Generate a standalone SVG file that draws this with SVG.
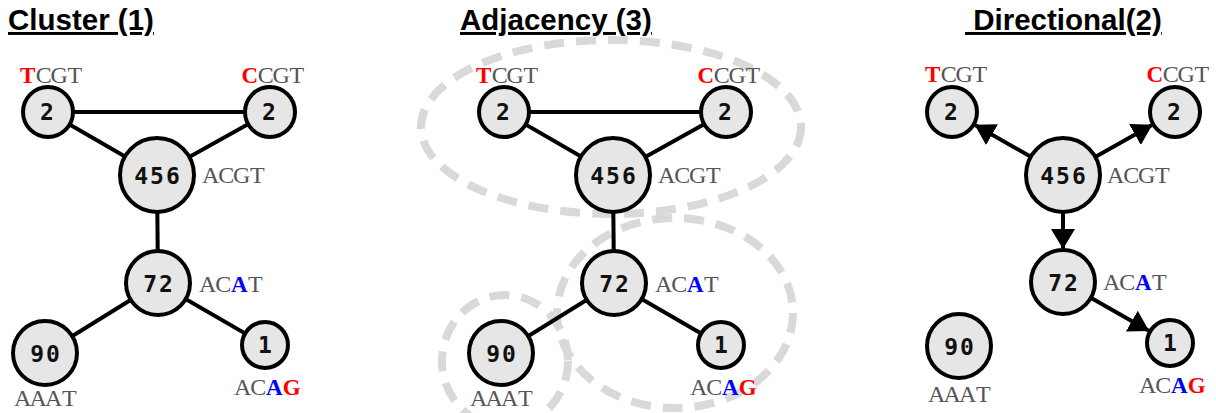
<svg xmlns="http://www.w3.org/2000/svg" width="1216" height="413" viewBox="0 0 1216 413">
<style>
.title{font-family:"Liberation Sans",Arial,sans-serif;font-weight:bold;font-size:29.5px;fill:#000;text-decoration:underline}
.node circle{fill:#e6e6e6;stroke:#000;stroke-width:4}
.num{font-family:"DejaVu Sans Mono",monospace;font-weight:bold;font-size:23px;letter-spacing:2px;text-anchor:middle;fill:#111}
.lbl{font-family:"Liberation Serif","Times New Roman",serif;font-size:24px;fill:#555;text-anchor:middle}
.r{fill:#ff0000;font-weight:bold;font-size:23px}
.b{fill:#0000ff;font-weight:bold;font-size:23px}
.edge{stroke:#000;stroke-width:4;fill:none}
.arr{stroke:#000;stroke-width:4;fill:none;marker-end:url(#ah)}
.grp{fill:none;stroke:#d9d9d9;stroke-width:8;stroke-dasharray:20 12}
</style>
<defs>
<marker id="ah" markerUnits="userSpaceOnUse" viewBox="0 0 20 24" markerWidth="20" markerHeight="24" refX="19" refY="12" orient="auto">
<path d="M0,0 L20,12 L0,24 z" fill="#000"/>
</marker>
</defs>

<g id="titles">
<text class="title" x="8" y="30">Cluster (1)</text>
<text class="title" x="460" y="30">Adjacency (3)</text>
<text class="title" x="965" y="30" xml:space="preserve"> Directional(2)</text>
</g>

<g id="groups">
<ellipse class="grp" cx="611" cy="127" rx="190" ry="87"/>
<ellipse class="grp" cx="675" cy="313" rx="118" ry="95"/>
<ellipse class="grp" cx="505" cy="361" rx="63" ry="66"/>
</g>

<g id="connectors">
<line class="edge" x1="48" y1="112" x2="270" y2="112"/>
<line class="edge" x1="48" y1="112" x2="157" y2="175"/>
<line class="edge" x1="270" y1="112" x2="157" y2="175"/>
<line class="edge" x1="157" y1="175" x2="158" y2="283"/>
<line class="edge" x1="158" y1="283" x2="45" y2="353"/>
<line class="edge" x1="158" y1="283" x2="265" y2="345"/>

<line class="edge" x1="504" y1="112" x2="726" y2="112"/>
<line class="edge" x1="504" y1="112" x2="613" y2="175"/>
<line class="edge" x1="726" y1="112" x2="613" y2="175"/>
<line class="edge" x1="613" y1="175" x2="614" y2="283"/>
<line class="edge" x1="614" y1="283" x2="501" y2="353"/>
<line class="edge" x1="614" y1="283" x2="721" y2="345"/>

<line class="arr" x1="1030.8" y1="156.7" x2="975.5" y2="125.3"/>
<line class="arr" x1="1095.2" y1="156.9" x2="1151.5" y2="125.2"/>
<line class="arr" x1="1063" y1="212" x2="1063" y2="248"/>
<line class="arr" x1="1090.8" y1="297.8" x2="1148.3" y2="330.6"/>
</g>

<!-- Panel 1 -->
<g id="c1-tcgt" class="node"><circle cx="48" cy="112" r="25"/><text class="num" x="48" y="120">2</text><text class="lbl" x="27.75 43.75 59.25 74.75" y="83"><tspan class="r">T</tspan>CGT</text></g>
<g id="c1-ccgt" class="node"><circle cx="270" cy="112" r="25"/><text class="num" x="270" y="120">2</text><text class="lbl" x="249.75 265.75 281.25 296.75" y="83"><tspan class="r">C</tspan>CGT</text></g>
<g id="c1-acgt" class="node"><circle cx="157" cy="175" r="37"/><text class="num" x="158" y="184">456</text><text class="lbl" x="210.75 226.25 241.75 257.25" y="183">ACGT</text></g>
<g id="c1-acat" class="node"><circle cx="158" cy="283" r="32"/><text class="num" x="159" y="292">72</text><text class="lbl" x="207.75 223.25 239.25 255.25" y="292">AC<tspan class="b">A</tspan>T</text></g>
<g id="c1-aaat" class="node"><circle cx="45" cy="353" r="32"/><text class="num" x="46" y="362">90</text><text class="lbl" x="22.75 38.25 53.75 69.25" y="406">AAAT</text></g>
<g id="c1-acag" class="node"><circle cx="265" cy="345" r="23"/><text class="num" x="266" y="353">1</text><text class="lbl" x="242.75 258.25 274.25 291.75" y="395">AC<tspan class="b">A</tspan><tspan class="r">G</tspan></text></g>

<!-- Panel 2 -->
<g id="a-tcgt" class="node"><circle cx="504" cy="112" r="25"/><text class="num" x="504" y="120">2</text><text class="lbl" x="483.75 499.75 515.25 530.75" y="83"><tspan class="r">T</tspan>CGT</text></g>
<g id="a-ccgt" class="node"><circle cx="726" cy="112" r="25"/><text class="num" x="726" y="120">2</text><text class="lbl" x="705.75 721.75 737.25 752.75" y="83"><tspan class="r">C</tspan>CGT</text></g>
<g id="a-acgt" class="node"><circle cx="613" cy="175" r="37"/><text class="num" x="614" y="184">456</text><text class="lbl" x="666.75 682.25 697.75 713.25" y="183">ACGT</text></g>
<g id="a-acat" class="node"><circle cx="614" cy="283" r="32"/><text class="num" x="615" y="292">72</text><text class="lbl" x="663.75 679.25 695.25 711.25" y="292">AC<tspan class="b">A</tspan>T</text></g>
<g id="a-aaat" class="node"><circle cx="501" cy="353" r="32"/><text class="num" x="502" y="362">90</text><text class="lbl" x="478.75 494.25 509.75 525.25" y="406">AAAT</text></g>
<g id="a-acag" class="node"><circle cx="721" cy="345" r="23"/><text class="num" x="722" y="353">1</text><text class="lbl" x="698.75 714.25 730.25 747.75" y="395">AC<tspan class="b">A</tspan><tspan class="r">G</tspan></text></g>

<!-- Panel 3 -->
<g id="d-tcgt" class="node"><circle cx="952" cy="112" r="25"/><text class="num" x="952" y="120">2</text><text class="lbl" x="932.75 948.75 964.25 979.75" y="82"><tspan class="r">T</tspan>CGT</text></g>
<g id="d-ccgt" class="node"><circle cx="1175" cy="112" r="25"/><text class="num" x="1175" y="120">2</text><text class="lbl" x="1154.75 1170.75 1186.25 1201.75" y="82"><tspan class="r">C</tspan>CGT</text></g>
<g id="d-acgt" class="node"><circle cx="1063" cy="175" r="37"/><text class="num" x="1064" y="184">456</text><text class="lbl" x="1115.75 1131.25 1146.75 1162.25" y="183">ACGT</text></g>
<g id="d-acat" class="node"><circle cx="1063" cy="282" r="32"/><text class="num" x="1064" y="291">72</text><text class="lbl" x="1111.75 1127.25 1143.25 1159.25" y="290">AC<tspan class="b">A</tspan>T</text></g>
<g id="d-aaat" class="node"><circle cx="959" cy="346" r="32"/><text class="num" x="960" y="355">90</text><text class="lbl" x="936.75 952.25 967.75 983.25" y="402">AAAT</text></g>
<g id="d-acag" class="node"><circle cx="1170" cy="343" r="23"/><text class="num" x="1171" y="351">1</text><text class="lbl" x="1147.75 1163.25 1179.25 1196.75" y="393">AC<tspan class="b">A</tspan><tspan class="r">G</tspan></text></g>
</svg>
